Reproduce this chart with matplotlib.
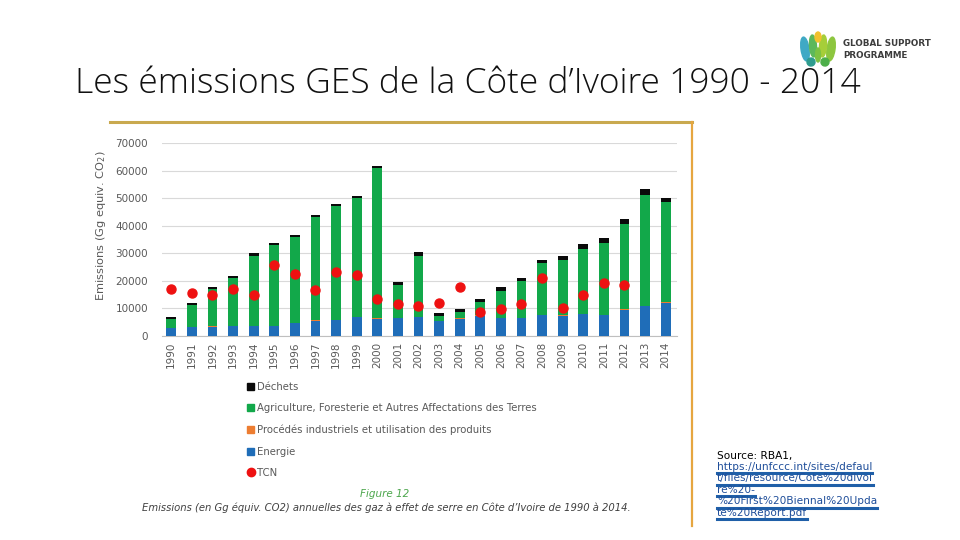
import matplotlib
matplotlib.use("Agg")
import matplotlib.pyplot as plt
import numpy as np
from matplotlib.lines import Line2D
from matplotlib.patches import Patch, Ellipse

years = [str(y) for y in range(1990, 2015)]
energie = [2900, 3100, 3300, 3600, 3600, 3600, 4700, 5600, 5800, 6900, 6200, 6500, 6900,
           5400, 6200, 7300, 6500, 6500, 7600, 7400, 8000, 7600, 9600, 10900, 12100]
procedes = [150] * 25
agriculture = [3150, 8050, 13650, 17450, 25350, 29250, 31150, 37450, 41150, 43050, 54450,
               11950, 22050, 1850, 2350, 5050, 9650, 13350, 18750, 20050, 23450, 26050,
               30950, 40150, 36450]
dechets = [700, 700, 700, 700, 1000, 800, 700, 700, 700, 700, 900, 1000, 1400, 1100, 1200,
           1100, 1500, 1100, 1100, 1500, 1800, 1600, 1600, 2200, 1400]
tcn = [17200, 15600, 14800, 17200, 15000, 25800, 22400, 16600, 23100, 22300, 13400, 11700,
       10800, 12100, 17700, 8800, 9800, 11600, 21100, 10000, 14800, 19100, 18500, np.nan, np.nan]
yticks = [0, 10000, 20000, 30000, 40000, 50000, 60000, 70000]

C_BLUE = "#1F6DB8"
C_ORANGE = "#ED7D31"
C_GREEN = "#12A84A"
C_BLACK = "#0A0A0A"
C_RED = "#EE1111"
GREY = "#595959"

W, H = 960, 540
fig = plt.figure(figsize=(9.6, 5.4), dpi=100)
fig.patch.set_facecolor("white")

def fx(px):
    return px / W

def fy(py):
    return 1 - py / H

# Title
fig.text(fx(75), fy(84), "Les émissions GES de la Côte d’Ivoire 1990 - 2014",
         fontsize=25.5, family="Open Sans", fontweight="light", color="#111111",
         ha="left", va="center")

# Gold border of the embedded picture
fig.add_artist(Line2D([fx(110), fx(692)], [fy(122), fy(122)], color="#C9A94F", lw=2.2))
fig.add_artist(Line2D([fx(692), fx(692)], [fy(122), fy(526)], color="#E6A640", lw=1.6))

# Chart axes
ax = fig.add_axes([fx(162), fy(336), fx(677) - fx(162), fy(143) - fy(336)])
x = np.arange(len(years))
bw = 0.47
b1 = np.array(energie)
b2 = b1 + np.array(procedes)
b3 = b2 + np.array(agriculture)
ax.bar(x, energie, bw, color=C_BLUE, zorder=3)
ax.bar(x, procedes, bw, bottom=b1, color=C_ORANGE, zorder=3)
ax.bar(x, agriculture, bw, bottom=b2, color=C_GREEN, zorder=3)
ax.bar(x, dechets, bw, bottom=b3, color=C_BLACK, zorder=3)
ax.plot(x, tcn, "o", color=C_RED, markersize=6.5, zorder=4)

ax.set_xlim(-0.45, len(years) - 0.45)
ax.set_ylim(0, 70000)
ax.set_yticks(yticks)
ax.set_yticklabels([str(v) for v in yticks])
ax.set_xticks(x)
ax.set_xticklabels(years, rotation=90)
ax.tick_params(axis="y", length=0, pad=10, labelsize=7.5, labelcolor=GREY)
ax.tick_params(axis="x", length=0, pad=4, labelsize=7.5, labelcolor=GREY)
ax.grid(axis="y", color="#D9D9D9", lw=0.8, zorder=0)
for s in ["top", "right", "left"]:
    ax.spines[s].set_visible(False)
ax.spines["bottom"].set_color("#BFBFBF")
ax.spines["bottom"].set_linewidth(0.8)
ax.set_ylabel("Emissions (Gg equiv. CO$_2$)", fontsize=8.2, color=GREY, labelpad=6)
ax.yaxis.set_label_coords((fx(108) - fx(162)) / (fx(677) - fx(162)), 0.57)

# Legend
handles = [
    Patch(color=C_BLACK, label="Déchets"),
    Patch(color=C_GREEN, label="Agriculture, Foresterie et Autres Affectations des Terres"),
    Patch(color=C_ORANGE, label="Procédés industriels et utilisation des produits"),
    Patch(color=C_BLUE, label="Energie"),
    Line2D([], [], marker="o", ls="", color=C_RED, markersize=6, label="TCN"),
]
leg = fig.legend(handles=handles, loc="upper left", bbox_to_anchor=(fx(242), fy(377)),
                 frameon=False, fontsize=7.3, labelspacing=1.12, handlelength=0.7,
                 handleheight=0.7, handletextpad=0.3, borderpad=0)
for t in leg.get_texts():
    t.set_color(GREY)

fig.text(fx(385), fy(494), "Figure 12", fontsize=7.5, color="#4CA64C", style="italic",
         ha="center", va="center")
fig.text(fx(386), fy(508),
         "Emissions (en Gg équiv. CO2) annuelles des gaz à effet de serre en Côte d’Ivoire de 1990 à 2014.",
         fontsize=7.2, color="#404040", style="italic", ha="center", va="center")

# Source
fig.text(fx(717), fy(456), "Source: RBA1,", fontsize=7.6, color="black", ha="left", va="center")
link_lines = ["https://unfccc.int/sites/defaul", "t/files/resource/Cote%20dIvoi", "re%20-",
              "%20First%20Biennal%20Upda", "te%20Report.pdf"]
ly = 467
for line in link_lines:
    fig.text(fx(717), fy(ly), line, fontsize=7.6, color="#1F4E9A", ha="left", va="center")
    ly += 11.5

fig.canvas.draw()
renderer = fig.canvas.get_renderer()
for t in fig.texts:
    if t.get_text() in link_lines:
        bb = t.get_window_extent(renderer)
        fig.add_artist(Line2D([bb.x0 / W, bb.x1 / W], [bb.y0 / H - 0.002, bb.y0 / H - 0.002],
                              color="#1F5FA8", lw=2.2))

# Logo
logo_ax = fig.add_axes([fx(800), fy(67), fx(836) - fx(800), fy(31) - fy(67)])
logo_ax.set_xlim(0, 36)
logo_ax.set_ylim(0, 36)
logo_ax.axis("off")
leaf = [(5, 18, 8, 24, "#3FA9C5", 8), (31, 18, 8, 24, "#8DC63F", -8),
        (13, 21, 7, 22, "#5DB85B", 4), (23, 21, 7, 22, "#A6CE39", -4),
        (18, 30, 6, 10, "#F2C12E", 0), (11, 5, 8, 8, "#2E9C8F", 30), (25, 5, 8, 8, "#4DAF4A", -30),
        (18, 12, 5, 14, "#7CC242", 0)]
for cx, cy, w, h, c, a in leaf:
    logo_ax.add_patch(Ellipse((cx, cy), w, h, angle=a, color=c))
fig.text(fx(843), fy(44), "GLOBAL SUPPORT", fontsize=6.3, fontweight="bold", color="#3C3C3C",
         ha="left", va="center")
fig.text(fx(843), fy(55), "PROGRAMME", fontsize=6.3, fontweight="bold", color="#3C3C3C",
         ha="left", va="center")

fig.savefig("out.png", dpi=100, facecolor="white")
